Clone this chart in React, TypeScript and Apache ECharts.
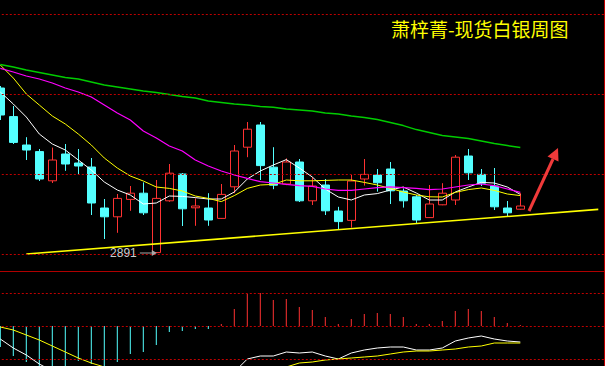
import React, { useEffect, useRef } from 'react';
import * as echarts from 'echarts';

// weekly bars (category slots incl. empty room on the right)
const weeks = [
  'W01','W02','W03','W04','W05','W06','W07','W08','W09','W10',
  'W11','W12','W13','W14','W15','W16','W17','W18','W19','W20',
  'W21','W22','W23','W24','W25','W26','W27','W28','W29','W30',
  'W31','W32','W33','W34','W35','W36','W37','W38','W39','W40',
  'W41','W42','W43','W44','W45','W46','W47',
];

// [open, close, low, high]
const ohlc = [
  [3716, 3581, 3556, 3726],
  [3573, 3444, 3436, 3626],
  [3431, 3406, 3356, 3470],
  [3398, 3261, 3251, 3411],
  [3252, 3356, 3241, 3418],
  [3386, 3336, 3302, 3436],
  [3341, 3326, 3281, 3411],
  [3321, 3141, 3081, 3366],
  [3116, 3072, 2961, 3161],
  [3072, 3164, 2992, 3186],
  [3159, 3190, 3102, 3226],
  [3190, 3092, 3081, 3244],
  [2893, 3164, 2891, 3256],
  [3152, 3290, 3147, 3336],
  [3286, 3112, 3026, 3291],
  [3117, 3126, 3027, 3164],
  [3116, 3056, 3027, 3190],
  [3064, 3184, 3062, 3236],
  [3222, 3401, 3190, 3431],
  [3420, 3510, 3370, 3546],
  [3531, 3328, 3256, 3546],
  [3320, 3230, 3210, 3420],
  [3236, 3346, 3230, 3364],
  [3346, 3152, 3146, 3361],
  [3152, 3226, 3131, 3270],
  [3231, 3102, 3081, 3261],
  [3101, 3048, 3006, 3122],
  [3054, 3251, 3018, 3281],
  [3261, 3284, 3228, 3361],
  [3281, 3242, 3198, 3311],
  [3311, 3202, 3136, 3346],
  [3201, 3152, 3118, 3214],
  [3172, 3056, 3040, 3181],
  [3068, 3136, 3066, 3231],
  [3132, 3190, 3130, 3240],
  [3156, 3370, 3131, 3381],
  [3376, 3292, 3256, 3411],
  [3284, 3240, 3226, 3311],
  [3226, 3122, 3106, 3316],
  [3116, 3092, 3076, 3151],
  [3110, 3126, 3108, 3190],
];

const ma5 = [3696, 3636, 3571, 3486, 3436, 3406, 3356, 3306, 3246, 3206, 3181, 3136, 3141, 3176, 3174, 3168, 3161, 3161, 3196, 3261, 3301, 3331, 3358, 3316, 3271, 3211, 3171, 3156, 3181, 3188, 3206, 3221, 3191, 3156, 3156, 3196, 3221, 3244, 3241, 3221, 3184];
const ma10 = [3831, 3766, 3686, 3631, 3576, 3536, 3486, 3431, 3366, 3316, 3276, 3251, 3221, 3214, 3201, 3176, 3164, 3148, 3178, 3214, 3231, 3234, 3256, 3252, 3252, 3254, 3256, 3256, 3244, 3231, 3214, 3196, 3181, 3172, 3171, 3194, 3208, 3216, 3204, 3186, 3178];
const ma20 = [3814, 3796, 3776, 3761, 3741, 3716, 3696, 3671, 3631, 3591, 3556, 3501, 3466, 3426, 3401, 3356, 3326, 3301, 3281, 3264, 3248, 3241, 3234, 3228, 3224, 3211, 3204, 3204, 3211, 3218, 3222, 3218, 3214, 3208, 3211, 3221, 3231, 3236, 3228, 3211, 3194];
const ma60 = [3834, 3821, 3806, 3794, 3781, 3768, 3761, 3746, 3731, 3721, 3711, 3701, 3694, 3684, 3674, 3666, 3651, 3644, 3636, 3631, 3624, 3620, 3611, 3606, 3601, 3591, 3586, 3576, 3568, 3558, 3544, 3528, 3508, 3494, 3478, 3471, 3464, 3451, 3438, 3428, 3418];

// support trend line: start and end anchors (week index, price)
const trendStart = [2, 2886];
const trendEnd = [46, 3109];

const priceLevels = [4086, 3686, 3286, 2886];
const lowLabel = { week: 12, price: 2891, text: '2891' };

// MACD panel
const macdHist = [-21, -30, -36, -45, -48, -46, -35, -38, -42, -36, -28, -26, -19, -6, -5, -3, -3, 2, 17, 32, 33, 26, 27, 19, 16, 9, 2, 7, 12, 13, 12, 9, 2, 2, 5, 15, 17, 15, 9, 3, 1];
const dif = [-13, -22, -29, -38, -45, -50, -54, -57, -59, -60, -60, -59, -57, -55, -53, -50, -47, -45, -46, -33, -30, -30, -26, -27, -26, -30, -33, -27, -24, -22, -21, -21, -24, -24, -22, -15, -12, -10, -13, -15, -16];
const dea = [-1, -4, -9, -14, -20, -26, -32, -37, -41, -44, -46, -48, -50, -51, -51, -50, -49, -48, -47, -46, -45, -43, -41, -37, -36, -34, -33, -32, -31, -30, -28, -26, -25, -25, -24, -23, -21, -20, -17, -17, -17];
const macdLevels = [33, 0, -33];

const title = '萧梓菁-现货白银周图';

const RED = '#ff3232';
const CYAN = '#54ffff';
const GRIDRED = '#c00000';

export default function App() {
  const ref = useRef<HTMLDivElement>(null);

  useEffect(() => {
    const chart = echarts.init(ref.current!, null, { renderer: 'svg' });

    const trendData: (number | null)[] = weeks.map(() => null);
    trendData[trendStart[0]] = trendStart[1];
    trendData[trendEnd[0]] = trendEnd[1];

    const dotted = { color: GRIDRED, type: [2, 2] as any, width: 1 };

    const option: any = {
      animation: false,
      backgroundColor: '#000000',
      grid: [
        { left: -6.2, top: 0, width: 611, height: 271, outerBoundsMode: 'none', containLabel: false },
        { left: -6.2, top: 271, width: 611, height: 95, outerBoundsMode: 'none', containLabel: false },
      ],
      xAxis: [
        {
          type: 'category', gridIndex: 0, data: weeks, boundaryGap: true,
          axisLine: { show: true, onZero: false, lineStyle: { color: '#b00000', width: 1 } },
          axisTick: { show: false }, axisLabel: { show: false }, splitLine: { show: false },
        },
        { type: 'category', gridIndex: 1, data: weeks, boundaryGap: true, show: false },
      ],
      yAxis: [
        { type: 'value', gridIndex: 0, min: 2801, max: 4156, show: false },
        { type: 'value', gridIndex: 1, min: -40, max: 55, show: false },
      ],
      graphic: [
        {
          type: 'text', left: 391, top: 19, z: 10,
          style: { text: title, fill: '#ffff00', fontSize: 19, fontFamily: '"Noto Sans CJK SC", sans-serif' },
        },
        {
          type: 'line', z: 10,
          shape: { x1: 604.5, y1: 0, x2: 604.5, y2: 366 },
          style: { stroke: '#c00000', lineWidth: 1 },
        },
        {
          type: 'line', z: 10,
          shape: { x1: 529, y1: 211, x2: 553, y2: 159 },
          style: { stroke: '#f03a3a', lineWidth: 3 },
        },
        {
          type: 'polygon', z: 10,
          shape: { points: [[558, 148], [558.5, 161.5], [547.5, 156.5]] },
          style: { fill: '#f03a3a' },
        },
      ],
      series: [
        {
          type: 'candlestick', xAxisIndex: 0, yAxisIndex: 0,
          data: ohlc, barWidth: 8,
          itemStyle: { color: '#000000', color0: CYAN, borderColor: RED, borderColor0: CYAN, borderWidth: 1 },
          markLine: {
            silent: true, symbol: ['none', 'none'], label: { show: false },
            lineStyle: dotted,
            data: priceLevels.map((v) => ({ yAxis: v })),
          },
          markPoint: {
            silent: true,
            data: [
              {
                coord: [weeks[lowLabel.week], lowLabel.price],
                symbol: 'path://M0,2.5 L12,2.5 L12,0 L17,3 L12,6 L12,3.5 L0,3.5 Z',
                symbolSize: [17, 6],
                symbolOffset: [-8, 0],
                itemStyle: { color: '#a8a8a8' },
                label: {
                  show: true, position: 'left', distance: 3,
                  formatter: lowLabel.text, color: '#c8ccd0', fontSize: 12,
                  fontFamily: 'Arial, "Liberation Sans", sans-serif',
                },
              },
            ],
          },
        },
        { type: 'line', data: ma5, symbol: 'none', lineStyle: { color: '#ffffff', width: 1 } },
        { type: 'line', data: ma10, symbol: 'none', lineStyle: { color: '#ffff00', width: 1 } },
        { type: 'line', data: ma20, symbol: 'none', lineStyle: { color: '#ff00ff', width: 1.2 } },
        { type: 'line', data: ma60, symbol: 'none', lineStyle: { color: '#00cc00', width: 1.5 } },
        {
          type: 'line', data: trendData, connectNulls: true, symbol: 'none',
          lineStyle: { color: '#ffff00', width: 1.6 },
        },
        {
          type: 'bar', xAxisIndex: 1, yAxisIndex: 1, barWidth: 1,
          data: macdHist.map((v) => ({ value: v, itemStyle: { color: v >= 0 ? RED : CYAN } })),
          markLine: {
            silent: true, symbol: ['none', 'none'], label: { show: false },
            lineStyle: dotted,
            data: macdLevels.map((v) => ({ yAxis: v })),
          },
        },
        {
          type: 'line', xAxisIndex: 1, yAxisIndex: 1, data: dif, symbol: 'none',
          lineStyle: { color: '#ffffff', width: 1 },
        },
        {
          type: 'line', xAxisIndex: 1, yAxisIndex: 1, data: dea, symbol: 'none',
          lineStyle: { color: '#ffff00', width: 1 },
        },
      ],
    };

    chart.setOption(option);
    return () => chart.dispose();
  }, []);

  return (
    <div
      ref={ref}
      style={{ position: 'fixed', left: 0, top: 0, width: 605, height: 366, background: '#000' }}
    />
  );
}
